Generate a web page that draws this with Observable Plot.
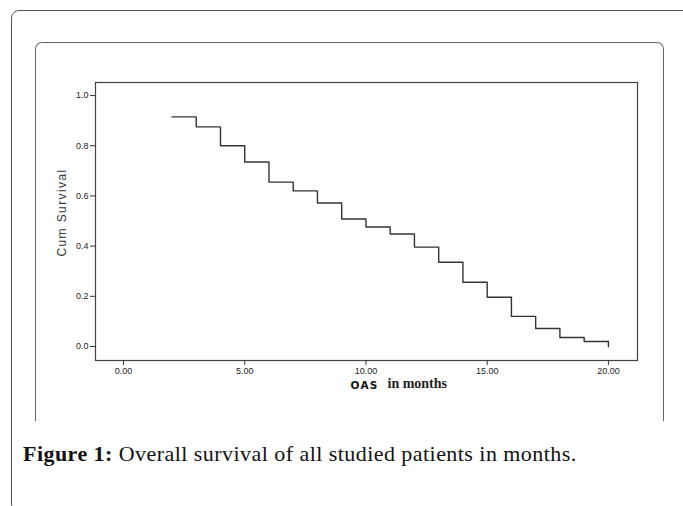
<!DOCTYPE html>
<html>
<head>
<meta charset="utf-8">
<script src="https://cdn.jsdelivr.net/npm/d3@7"></script>
<script src="https://cdn.jsdelivr.net/npm/@observablehq/plot@0.6"></script>
<style>
  html, body { margin: 0; padding: 0; background: #fff; overflow: hidden; }
  #page { position: relative; width: 683px; height: 506px; overflow: hidden; }
  #outer { position: absolute; left: 11px; top: 10px; width: 720px; height: 500px;
           border: 1.5px solid #555; border-radius: 8px; }
  #inner { position: absolute; left: 35px; top: 42px; width: 627px; height: 378px;
           border: 1.5px solid #666; border-bottom: none; border-radius: 7px 7px 0 0; }
  #chart { position: absolute; left: 0; top: 0; }
  #caption { position: absolute; left: 23px; top: 441px; font-family: "Liberation Serif", serif;
             font-size: 22px; letter-spacing: 0.45px; color: #111; white-space: nowrap; line-height: 1.2; }
  #caption b { font-weight: bold; }
</style>
</head>
<body>
<div id="page">
  <div id="outer"></div>
  <div id="inner"></div>
  <div id="chart"></div>
  <div id="caption"><b>Figure 1:</b> Overall survival of all studied patients in months.</div>
</div>
<script>
const months = [2, 3, 4, 5, 6, 7, 8, 9, 10, 11, 12, 13, 14, 15, 16, 17, 18, 19, 20];
const survival = [0.915, 0.875, 0.80, 0.735, 0.655, 0.62, 0.572, 0.508, 0.476, 0.448, 0.396, 0.336, 0.256, 0.196, 0.12, 0.072, 0.036, 0.02, 0.0];
const xTicks = [0, 5, 10, 15, 20];
const yTicks = [0, 0.2, 0.4, 0.6, 0.8, 1.0];
const yLabel = "Cum Survival";
const xLabelA = "OAS";
const xLabelB = "in months";

const data = months.map((m, i) => ({month: m, surv: survival[i]}));

const chart = Plot.plot({
  width: 683,
  height: 400,
  marginLeft: 95,
  marginRight: 46,
  marginTop: 82,
  marginBottom: 40,
  style: {background: "transparent", fontFamily: "Liberation Sans, Arial, sans-serif", color: "#222"},
  x: {domain: [-1.155, 21.2], ticks: xTicks, tickFormat: d3.format(".2f")},
  y: {domain: [-0.0558, 1.052], ticks: yTicks, tickFormat: d3.format(".1f")},
  marks: [
    Plot.frame({stroke: "#444", strokeWidth: 1.2}),
    Plot.axisY({ticks: yTicks, tickFormat: d3.format(".1f"), tickSize: 5, tickPadding: 2, fontSize: 9, label: null, stroke: "#333"}),
    Plot.axisX({ticks: xTicks, tickFormat: d3.format(".2f"), tickSize: 5, tickPadding: 2, fontSize: 9, label: null, stroke: "#333"}),
    Plot.line(data, {x: "month", y: "surv", curve: "step-after", stroke: "#333", strokeWidth: 1.4}),
    Plot.text([yLabel], {frameAnchor: "left", text: d => d, textAnchor: "middle", rotate: -90, dx: -33, dy: -9, fontSize: 12, fill: "#333", className: "ylab"}),
    Plot.text([xLabelA], {frameAnchor: "bottom", text: d => d, textAnchor: "end", dx: 12, dy: 28, fontSize: 10.5, fontFamily: "DejaVu Sans, sans-serif", fill: "#111", className: "xlaba"}),
    Plot.text([xLabelB], {frameAnchor: "bottom", text: d => d, textAnchor: "start", dx: 21, dy: 27, fontSize: 14, fontFamily: "Liberation Serif, serif", fontWeight: "bold", fill: "#222"})
  ]
});
d3.select(chart).selectAll(".ylab text").attr("letter-spacing", "1.4");
d3.select(chart).selectAll(".xlaba text").attr("letter-spacing", "1.2").attr("font-weight", "600");
document.getElementById("chart").appendChild(chart);
</script>
</body>
</html>
